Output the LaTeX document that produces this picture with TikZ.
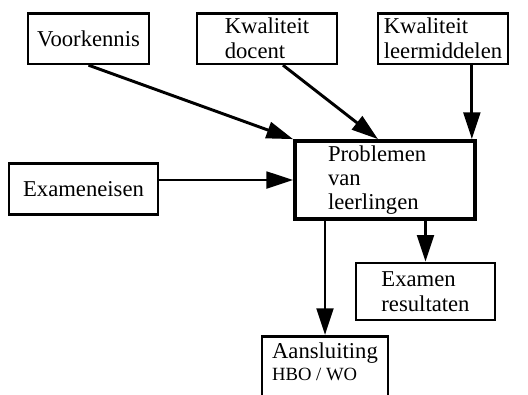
\documentclass[tikz,border=0pt]{standalone}
\usepackage{fontspec}
\setmainfont{Liberation Serif}
\usetikzlibrary{positioning,arrows.meta,calc}

\begin{document}
\begin{tikzpicture}[
    x=0.75pt, y=-0.75pt,
    >={Triangle[length=20pt,width=12.5pt]},
    every node/.style={font=\fontsize{17}{19}\selectfont},
    factorbox/.style={
        draw,
        line width=2pt,
        align=left,
        minimum height=#1,
        inner xsep=3pt,
    },
    factorbox/.default=38pt,
    corebox/.style={
        draw,
        line width=2.8pt,
        align=left,
        minimum height=58.5pt,
        text width=85.5pt,
        inner xsep=24.75pt,
        font=\fontsize{17}{18}\selectfont,
    },
    influence/.style={->,line width=2.2pt},
]

% === Frame ===
\clip (0,0) rectangle (528,394);

% === Influencing factors ===
\node[factorbox,minimum width=90.75pt] (voorkennis) at (88.5,38.5) {Voorkennis};
\node[factorbox,minimum width=105pt] (docent) at (267,38.5) {Kwaliteit\\docent};
\node[factorbox,minimum width=97.5pt] (leermiddelen) at (443,38.5) {Kwaliteit\\leermiddelen};
\node[factorbox,minimum width=111.75pt] (eisen) at (83.5,189) {Exameneisen};

% === Central problem ===
\node[corebox] (problemen) at (385,180) {Problemen\\van\\leerlingen};

% === Outcomes ===
\node[factorbox=42.75pt,minimum width=104.25pt] (resultaten) at (425.5,291.5) {Examen\\resultaten};
\node[factorbox,minimum width=94.5pt,anchor=north,inner ysep=5pt,text depth=40pt] (aansluiting) at (325,335)
    {Aansluiting\\[-3pt]{\fontsize{14}{15}\selectfont HBO / WO}};

% === Arrows into the problem ===
\draw[influence] (voorkennis.south) -- (problemen.north west);
\draw[influence] ($(docent.south)+(16,0)$) -- ($(problemen.north)+(-7,0)$);
\coordinate (leerin) at ($(problemen.north east)+(-5,0)$);
\draw[influence] (leermiddelen.south -| leerin) -- (leerin);
\draw[influence] (eisen.east |- problemen.west) -- (problemen.west);

% === Arrows out of the problem ===
\draw[influence] (problemen.south -| aansluiting.north) -- (aansluiting.north);
\draw[influence] (problemen.south -| resultaten.north) -- (resultaten.north);

\end{tikzpicture}
\end{document}
